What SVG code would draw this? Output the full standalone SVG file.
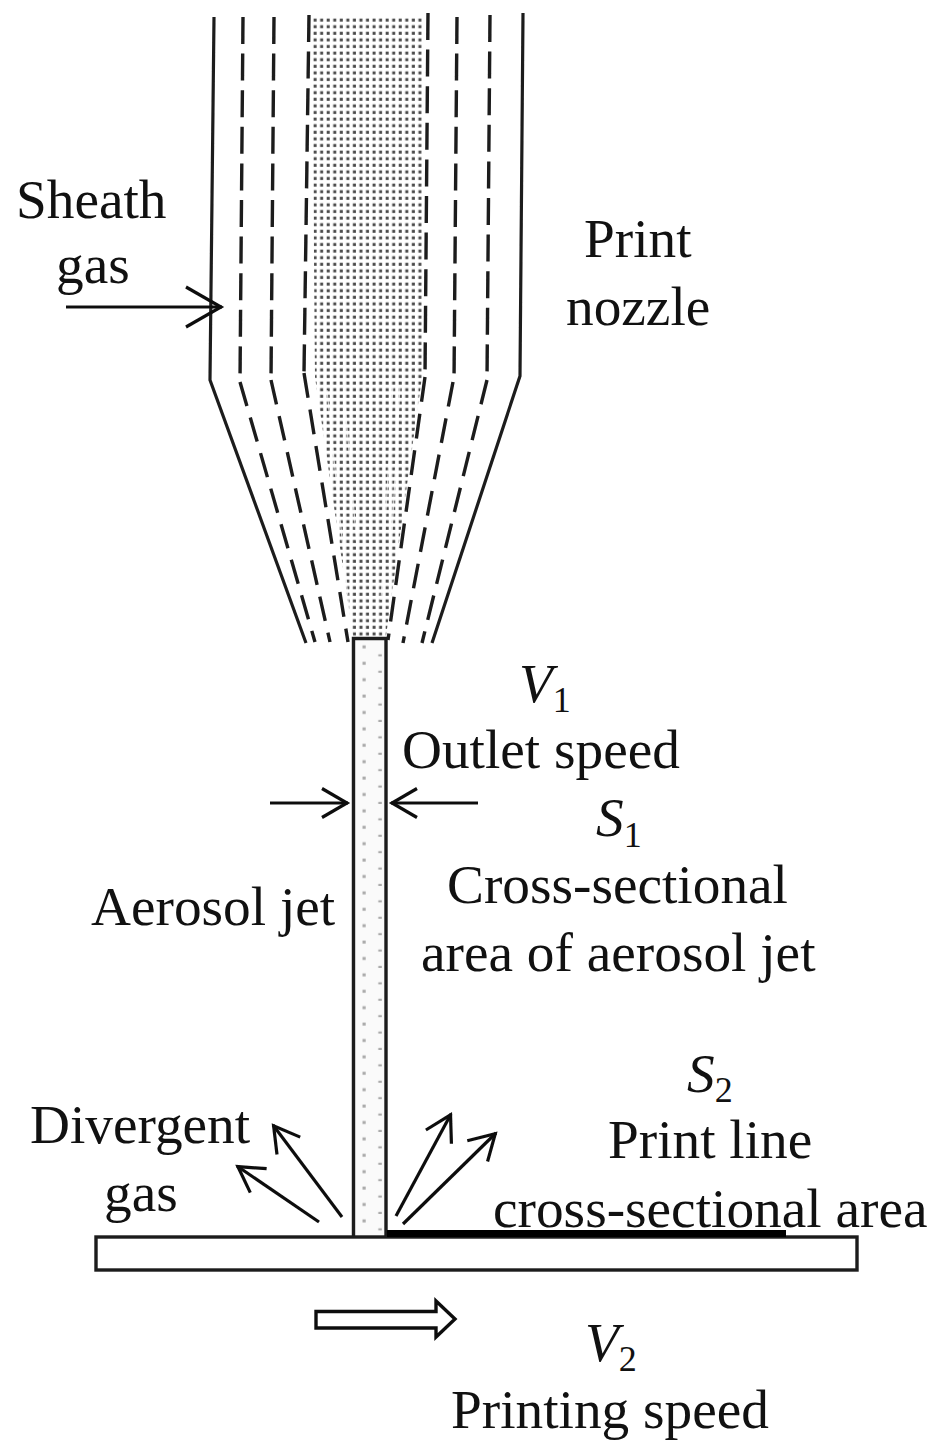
<svg xmlns="http://www.w3.org/2000/svg" width="939" height="1451" viewBox="0 0 939 1451">
<style>
text{font-family:"Liberation Serif","Times New Roman",serif;font-size:55.3px;fill:#111}
.i{font-style:italic}
.sub{font-size:36px;font-style:normal}
.solid{fill:none;stroke:#1c1c1c;stroke-width:3.2}
.dash{fill:none;stroke:#1c1c1c;stroke-width:3.4;stroke-dasharray:27 9.6}
.dash2{fill:none;stroke:#1c1c1c;stroke-width:3.4;stroke-dasharray:25 12}
.con{fill:none;stroke:#111;stroke-width:3.2}
.streak{fill:none;stroke:#fff;stroke-width:1.2;opacity:.75}
</style>
<defs>
<pattern id="dots" width="6.55" height="6.6" patternUnits="userSpaceOnUse" x="312" y="17">
<rect x="1.6" y="1.6" width="3" height="3" fill="#4a4a4a"/>
</pattern>
<pattern id="jetdots" width="32.8" height="16.4" patternUnits="userSpaceOnUse" x="360" y="640">
<rect x="2.5" y="5.4" width="3.2" height="3" fill="#aaa"/>
<rect x="18.3" y="14.3" width="3.5" height="2.100" fill="#aaa"/>
</pattern>
<marker id="arr" viewBox="0 0 36 36" markerWidth="36" markerHeight="36" markerUnits="userSpaceOnUse" refX="32" refY="18" orient="auto">
<path d="M6 3.5L31 18L6 32.5" fill="none" stroke="#111" stroke-width="3.2"/>
</marker>
<marker id="arrbig" viewBox="0 0 44 44" markerWidth="44" markerHeight="44" markerUnits="userSpaceOnUse" refX="40" refY="22" orient="auto">
<path d="M4 2L39 22L4 42" fill="none" stroke="#111" stroke-width="3.2"/>
</marker>
<filter id="soft" x="-2%" y="-2%" width="104%" height="104%"><feGaussianBlur stdDeviation="0.5"/></filter>
</defs>
<rect width="939" height="1451" fill="#fff"/>
<g filter="url(#soft)">
<g id="print-nozzle">
<polygon id="aerosol-core" points="312,17 422,17 422,377 386,636 353,636 315,377" fill="url(#dots)"/>
<path class="streak" d="M343 380L357 547M327 390L350 617M400 385L390 570M393 385L381 600"/>
<path class="solid" d="M214 17L210 380L306 643"/>
<path class="solid" d="M523 13L520 376L432 643"/>
<path class="dash" d="M243 17L240 382"/>
<path class="dash2" d="M240 382L315 642"/>
<path class="dash" d="M274 17L271 380"/>
<path class="dash2" d="M271 380L330 642"/>
<path class="dash" d="M309 15L304 373"/>
<path class="dash2" d="M304 373L348 642"/>
<path class="dash" d="M428 13L425 377"/>
<path class="dash2" d="M425 377L388 640"/>
<path class="dash" d="M457 17L454 382"/>
<path class="dash2" d="M453 382L403 643"/>
<path class="dash" d="M490 15L487 380"/>
<path class="dash2" d="M487 380L422 643"/>
</g>
<g id="aerosol-jet">
<rect x="354" y="639" width="32" height="597" fill="#fafafa"/>
<rect x="360" y="640" width="24" height="594" fill="url(#jetdots)"/>
<path d="M353.5 1236V638.5H386V1236" fill="none" stroke="#1c1c1c" stroke-width="3.4"/>
</g>
<g id="substrate">
<rect x="96" y="1237" width="761" height="33" fill="#fff" stroke="#1c1c1c" stroke-width="3.4"/>
<rect x="387" y="1230" width="399" height="7" fill="#000"/>
</g>
<g id="connectors">
<path class="con" marker-end="url(#arrbig)" d="M66 307H222"/>
<path class="con" marker-end="url(#arr)" d="M270 803H348"/>
<path class="con" marker-end="url(#arr)" d="M478 803H391"/>
<path class="con" marker-end="url(#arr)" d="M342 1217L273 1125"/>
<path class="con" marker-end="url(#arr)" d="M319 1222L237 1166"/>
<path class="con" marker-end="url(#arr)" d="M396 1216L451 1114"/>
<path class="con" marker-end="url(#arr)" d="M403 1224L496 1133"/>
</g>
<g id="speed-arrow">
<path d="M316 1311.500H436V1301L455 1319L436 1337V1328H316Z" fill="#fff" stroke="#111" stroke-width="3.4"/>
</g>
</g>
<g id="labels">
<text x="519" y="702" class="i">V<tspan class="sub" dy="10">1</tspan></text>
<text x="16" y="218">Sheath</text>
<text x="56" y="283">gas</text>
<text x="584" y="257">Print</text>
<text x="566" y="325">nozzle</text>
<text x="402" y="768">Outlet speed</text>
<text x="596" y="836" class="i">S<tspan class="sub" dy="11">1</tspan></text>
<text x="447" y="903">Cross-sectional</text>
<text x="421" y="971">area of aerosol jet</text>
<text x="91" y="925">Aerosol jet</text>
<text x="687" y="1092" class="i">S<tspan class="sub" dy="10">2</tspan></text>
<text x="608" y="1158">Print line</text>
<text x="493" y="1227">cross-sectional area</text>
<text x="30" y="1143">Divergent</text>
<text x="104" y="1211">gas</text>
<text x="585" y="1361" class="i">V<tspan class="sub" dy="10">2</tspan></text>
<text x="451" y="1428">Printing speed</text>
</g>
</svg>
